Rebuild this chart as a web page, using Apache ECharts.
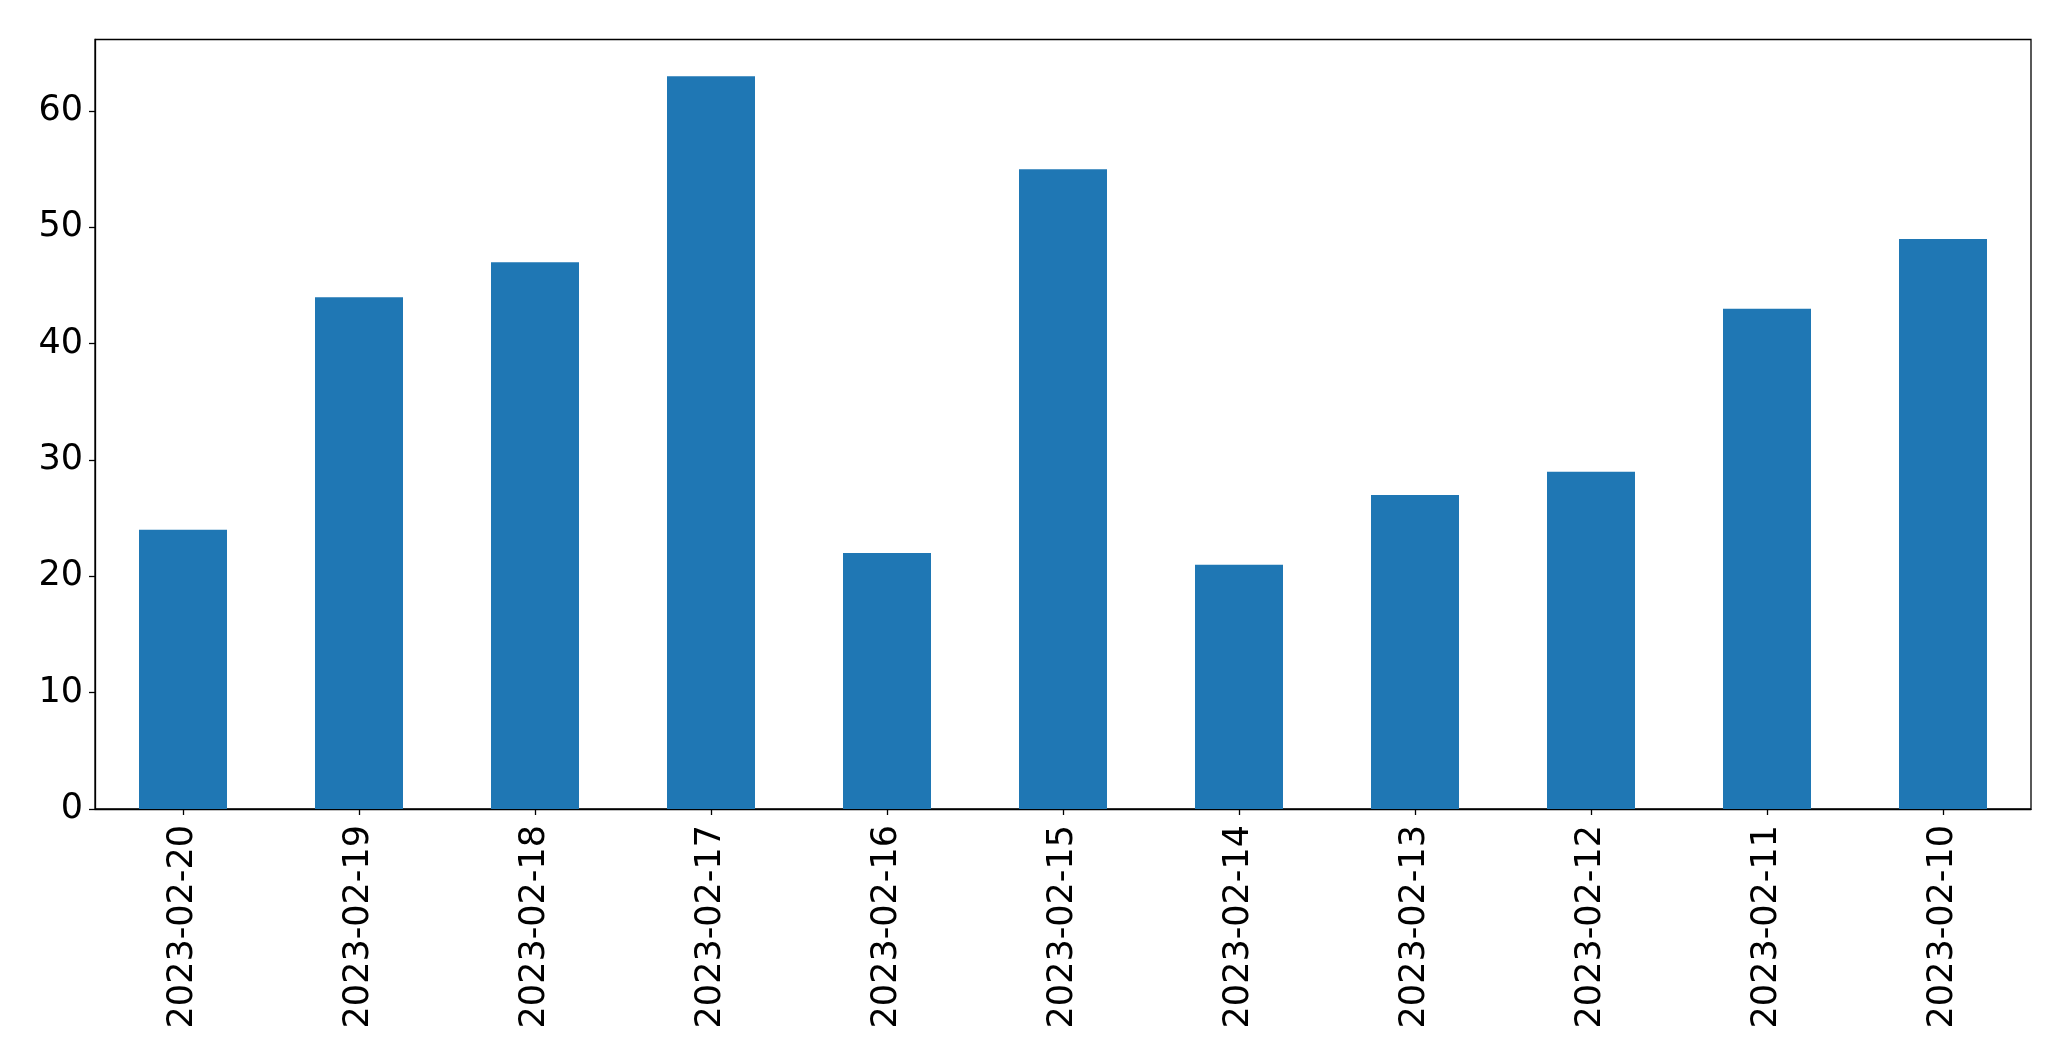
<!DOCTYPE html>
<html>
<head>
<meta charset="utf-8">
<script src="https://cdn.jsdelivr.net/npm/echarts@6/dist/echarts.min.js"></script>
<style>
html,body{margin:0;padding:0;background:#fff;}
#chart{width:2071px;height:1061px;}
</style>
</head>
<body>
<div id="chart"></div>
<script>
const categories = ['2023-02-20','2023-02-19','2023-02-18','2023-02-17','2023-02-16','2023-02-15','2023-02-14','2023-02-13','2023-02-12','2023-02-11','2023-02-10'];
const values = [24, 44, 47, 63, 22, 55, 21, 27, 29, 43, 49];
const yTicks = [0, 10, 20, 30, 40, 50, 60];

const chart = echarts.init(document.getElementById('chart'), null, {renderer: 'canvas'});
const font = 'DejaVu Sans';
chart.setOption({
  animation: false,
  backgroundColor: '#fff',
  grid: {
    left: 95, right: 40, top: 39.5, bottom: 252,
    show: true, borderColor: '#000', borderWidth: 1.3, containLabel: false
  },
  xAxis: {
    type: 'category',
    data: categories,
    axisLine: {lineStyle: {color: '#000', width: 1.3}},
    axisTick: {show: true, alignWithLabel: true, length: 6, lineStyle: {color: '#000', width: 1.3}},
    axisLabel: {rotate: 90, color: '#000', fontFamily: font, fontSize: 35, margin: 16, interval: 0}
  },
  yAxis: {
    type: 'value',
    min: 0,
    max: 66.15,
    interval: 10,
    splitLine: {show: false},
    axisLine: {show: true, lineStyle: {color: '#000', width: 1.3}},
    axisTick: {show: true, length: 6, customValues: yTicks, lineStyle: {color: '#000', width: 1.3}},
    axisLabel: {
      color: '#000', fontFamily: font, fontSize: 35, margin: 12,
      customValues: yTicks,
      formatter: function (v) { return yTicks.indexOf(v) >= 0 ? String(v) : ''; }
    }
  },
  series: [{
    type: 'bar',
    data: values,
    barWidth: '50%',
    itemStyle: {color: '#1f77b4'}
  }]
});
</script>
</body>
</html>
